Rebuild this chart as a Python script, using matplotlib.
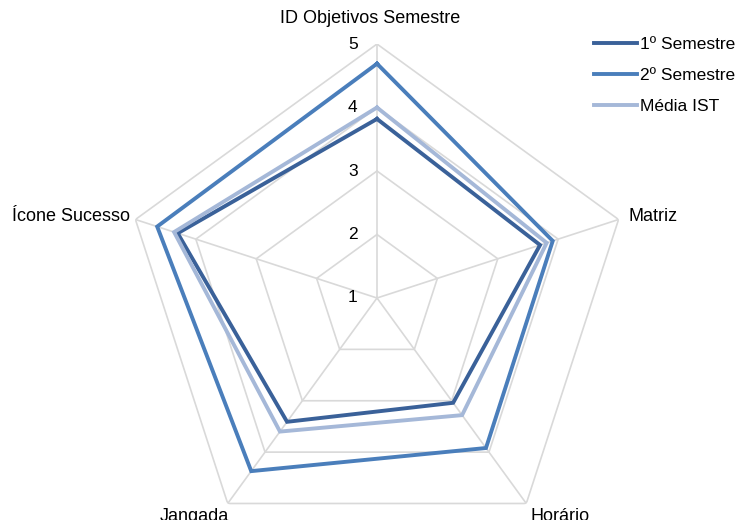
import numpy as np
import matplotlib.pyplot as plt

plt.rcParams['font.family'] = ['Liberation Sans', 'DejaVu Sans']

categories = ["ID Objetivos Semestre", "Matriz", "Horário", "Jangada", "Ícone Sucesso"]
sem1 = [3.82, 3.70, 3.04, 3.41, 4.30]
sem2 = [4.69, 3.91, 3.92, 4.37, 4.64]
media = [4.00, 3.81, 3.28, 3.60, 4.36]
series_names = ["1º Semestre", "2º Semestre", "Média IST"]
colors = ["#3A6199", "#4A7EBB", "#A5B8D8"]
rings = [2, 3, 4, 5]

n = len(categories)
# start at top, go clockwise
angles = [np.pi / 2 - 2 * np.pi * i / n for i in range(n)]
closed = angles + angles[:1]

fig = plt.figure(figsize=(7.39, 5.2), dpi=100)
ax = fig.add_axes([123 / 739, -32 / 520, 508 / 739, 508 / 520], projection="polar")
ax.set_ylim(1, 5)
ax.grid(False)
ax.spines["polar"].set_visible(False)
ax.set_xticks([])
ax.set_yticks([])
ax.patch.set_visible(False)

# pentagon grid
for r in rings:
    ax.plot(closed, [r] * (n + 1), color="#D9D9D9", lw=1.2, zorder=1)
for a in angles:
    ax.plot([a, a], [1, 5], color="#D9D9D9", lw=1.2, zorder=1)

for vals, name, c in zip([sem1, sem2, media], series_names, colors):
    ax.plot(closed, vals + vals[:1], color=c, lw=2.8, label=name, zorder=3,
            solid_joinstyle="miter")

# radial tick labels
for r in [1] + rings:
    ax.annotate(str(r), xy=(np.pi / 2, r), xytext=(-14, 0), textcoords="offset points",
                ha="right", va="center", fontsize=12.5)

# category labels (offsets in points)
label_pos = [(-5, 12, "center", "bottom"), (7, 2, "left", "center"),
             (24, -3, "center", "top"), (-24, -3, "center", "top"),
             (-4, 2, "right", "center")]
for a, lab, (dx, dy, ha, va) in zip(angles, categories, label_pos):
    ax.annotate(lab, xy=(a, 5), xytext=(dx, dy), textcoords="offset points",
                ha=ha, va=va, fontsize=13, annotation_clip=False)

fig.legend(loc="upper left", bbox_to_anchor=(594 / 739, 483 / 520), frameon=False,
           fontsize=12.5, handlelength=2.5, handletextpad=0.15, labelspacing=0.9,
           borderpad=0, borderaxespad=0)

fig.savefig("out.png", dpi=100)
